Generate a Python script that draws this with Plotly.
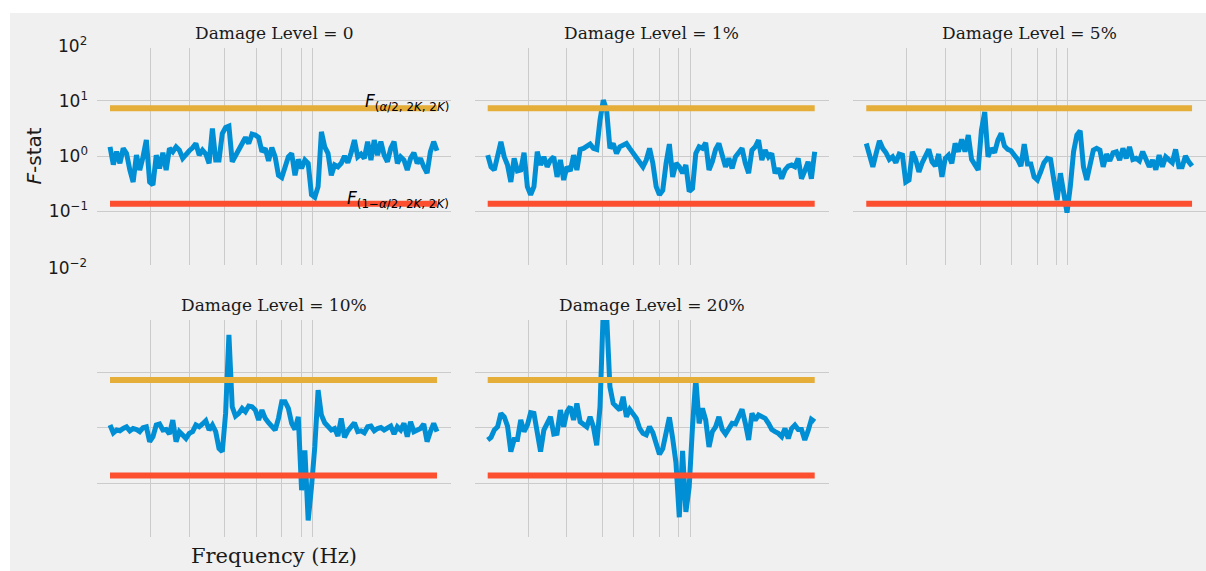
import numpy as np
import plotly.graph_objects as go

# Frequency bins (Hz) shared by every damage case
freq = np.arange(1, 101)

# Natural frequencies marked by the vertical grid lines
natural_freqs = [13.3, 25.0, 35.7, 45.2, 52.9, 58.9, 62.3]

damage_labels = ["0", "1%", "5%", "10%", "20%"]

fstat_0 = [1.47, 0.70, 1.20, 0.74, 1.38, 1.12, 0.56, 0.34, 1.04, 0.56,
           0.97, 1.95, 0.34, 0.30, 1.04, 0.60, 1.15, 0.56, 1.38, 1.20,
           1.47, 1.28, 0.91, 1.09, 1.25, 1.41, 1.69, 1.04, 1.28, 1.09,
           0.74, 3.16, 0.85, 0.85, 2.57, 3.30, 3.50, 0.79, 1.00, 1.28,
           1.74, 2.17, 1.69, 2.50, 2.40, 2.17, 1.20, 1.38, 0.82, 1.43,
           0.97, 0.45, 0.41, 0.60, 0.97, 1.12, 0.45, 0.87, 0.60, 0.85,
           0.74, 0.20, 0.18, 0.28, 2.75, 1.47, 1.12, 0.45, 0.69, 0.64,
           0.74, 1.00, 0.76, 1.15, 1.95, 0.97, 1.09, 0.91, 1.82, 0.85,
           1.95, 1.04, 1.82, 1.04, 0.79, 1.38, 1.82, 0.74, 0.97, 0.85,
           0.56, 0.91, 1.15, 0.74, 0.91, 0.64, 0.49, 1.20, 1.82, 1.25]

fstat_1 = [1.04, 0.64, 0.56, 0.97, 1.82, 0.97, 0.69, 0.34, 0.91, 0.54,
           0.56, 1.15, 0.28, 0.20, 0.28, 1.20, 0.69, 0.97, 0.64, 0.85,
           0.97, 0.42, 0.85, 0.37, 0.64, 0.54, 1.04, 0.56, 1.32, 1.38,
           1.47, 1.65, 1.38, 1.32, 4.47, 10.3, 6.80, 1.38, 1.69, 1.12,
           1.47, 1.58, 1.69, 1.38, 1.15, 0.97, 0.79, 0.64, 0.85, 1.38,
           0.74, 0.28, 0.20, 0.24, 0.74, 1.65, 0.42, 0.74, 0.64, 0.49,
           0.69, 0.23, 0.26, 1.12, 1.47, 1.38, 1.74, 0.56, 0.79, 1.32,
           1.69, 0.97, 0.64, 0.91, 0.60, 0.97, 1.20, 1.38, 0.74, 0.49,
           1.28, 1.47, 1.95, 0.85, 1.28, 0.97, 1.12, 0.49, 0.60, 0.39,
           0.56, 0.66, 0.69, 0.64, 0.91, 0.39, 0.54, 0.79, 0.39, 1.20]

fstat_5 = [1.69, 0.97, 0.64, 1.12, 1.89, 1.38, 1.15, 0.87, 0.97, 0.76,
           1.09, 1.04, 0.34, 0.37, 1.20, 0.87, 0.52, 0.76, 1.03, 1.32,
           0.79, 0.66, 1.09, 0.42, 0.91, 1.04, 0.74, 1.69, 1.20, 2.00,
           1.20, 2.40, 0.87, 0.66, 0.56, 2.95, 6.30, 0.97, 1.38, 1.15,
           1.95, 2.57, 1.52, 1.32, 1.25, 1.04, 0.87, 0.66, 1.65, 0.72,
           0.72, 0.42, 0.37, 0.52, 0.76, 0.91, 0.87, 0.37, 0.16, 0.49,
           0.21, 0.095, 0.28, 1.20, 2.40, 2.87, 0.64, 0.37, 0.69, 1.28,
           1.38, 1.28, 0.64, 1.09, 0.82, 1.15, 1.20, 0.85, 1.38, 0.91,
           1.47, 0.87, 0.91, 0.82, 1.20, 0.91, 0.64, 0.85, 0.57, 1.04,
           0.64, 0.97, 0.85, 0.76, 1.32, 0.64, 0.64, 1.00, 0.79, 0.66]

fstat_10 = [1.12, 0.81, 0.91, 0.88, 0.97, 1.04, 0.88, 0.97, 0.93, 0.85,
            1.00, 1.04, 0.56, 0.69, 1.12, 1.17, 0.91, 0.93, 0.77, 1.38,
            0.56, 0.85, 0.74, 0.64, 0.79, 0.85, 1.12, 1.04, 1.17, 1.34,
            0.91, 1.12, 0.85, 0.42, 0.37, 1.82, 47.9, 2.40, 1.63, 1.82,
            2.24, 1.95, 2.47, 2.40, 2.09, 1.38, 2.09, 1.48, 1.23, 1.04,
            0.91, 1.48, 2.96, 2.96, 2.24, 1.20, 0.93, 1.58, 0.074, 0.39,
            0.021, 0.085, 0.45, 4.80, 1.70, 1.23, 1.04, 0.91, 0.97, 0.71,
            1.48, 0.67, 0.88, 1.04, 1.23, 0.85, 0.88, 0.81, 1.04, 1.07,
            0.88, 0.97, 1.01, 0.91, 0.97, 1.07, 0.77, 1.04, 0.91, 1.20,
            0.69, 1.28, 0.85, 0.91, 0.97, 1.17, 0.56, 0.85, 1.20, 0.85]

fstat_20 = [0.60, 0.67, 0.91, 1.04, 1.82, 1.58, 1.07, 0.37, 0.61, 0.61,
            1.38, 0.85, 1.12, 1.87, 1.82, 0.85, 0.37, 0.91, 1.20, 1.58,
            0.77, 0.79, 2.09, 1.04, 1.95, 2.40, 1.38, 2.76, 1.28, 1.17,
            1.04, 1.58, 1.04, 0.48, 2.40, 140.0, 110.0, 5.50, 2.76, 2.40,
            2.09, 3.64, 1.58, 2.15, 1.70, 1.48, 0.97, 0.79, 0.74, 1.04,
            0.81, 0.52, 0.33, 0.42, 0.79, 1.54, 0.64, 0.23, 0.024, 0.38,
            0.030, 0.085, 1.04, 7.80, 1.20, 2.24, 1.38, 0.45, 0.85, 1.04,
            1.58, 0.93, 0.77, 0.93, 1.20, 1.17, 1.70, 2.15, 1.20, 0.60,
            1.82, 1.38, 1.70, 1.58, 1.48, 1.20, 0.93, 0.85, 0.79, 0.69,
            0.97, 0.64, 0.97, 1.12, 0.93, 0.93, 0.60, 0.88, 1.42, 1.28]

# Two-sided critical values of the F distribution
f_upper = 7.3
f_lower = 0.137

y_tickvals = [0.1, 1, 10]
y_ticktext = ["10<sup>\u22121</sup>", "10<sup>0</sup>", "10<sup>1</sup>"]

series = [fstat_0, fstat_1, fstat_5, fstat_10, fstat_20]

# ---- styling / layout ----
W, H = 1206, 571
BG = "#f0f0f0"
GRID = "#cbcbcb"
BLUE = "#008fd5"
ORANGE = "#e5ae38"
RED = "#fc4f30"
TXT = "#1a1a1a"

cols_px = [(97, 451), (474.7, 828.7), (853.3, 1206)]
rows_px = [(48.3, 265), (320, 536.6)]
cells = [(0, 0), (0, 1), (0, 2), (1, 0), (1, 1)]

x_range = [-2.94, 104.24]
y_range = [-1.97, 1.95]


def px_x(v):
    return v / W


def px_y(v):
    return 1 - v / H


fig = go.Figure()
layout = dict(
    width=W, height=H, autosize=False,
    margin=dict(l=0, r=0, t=0, b=0),
    paper_bgcolor="white", plot_bgcolor=BG,
    showlegend=False,
)

annotations = []
for k, ((r, c), vals, lab) in enumerate(zip(cells, series, damage_labels)):
    sfx = "" if k == 0 else str(k + 1)
    xa, ya = "x" + sfx, "y" + sfx
    x0, x1 = cols_px[c]
    y0, y1 = rows_px[r]
    layout["xaxis" + sfx] = dict(
        domain=[px_x(x0), px_x(x1)], range=x_range, anchor=ya,
        tickmode="array", tickvals=natural_freqs, showticklabels=False,
        showgrid=True, gridcolor=GRID, gridwidth=1, zeroline=False,
        showline=False, ticks="",
    )
    layout["yaxis" + sfx] = dict(
        domain=[px_y(y1), px_y(y0)], type="log", range=y_range, anchor=xa,
        tickmode="array", tickvals=y_tickvals, ticktext=y_ticktext,
        showticklabels=(k == 0), showgrid=True, gridcolor=GRID, gridwidth=1,
        zeroline=False, showline=False, ticks="", ticklabelstandoff=8,
        tickfont=dict(family="DejaVu Sans", size=17, color=TXT),
    )
    fig.add_trace(go.Scatter(x=freq, y=vals, mode="lines", xaxis=xa, yaxis=ya,
                             line=dict(color=BLUE, width=5), hoverinfo="skip"))
    fig.add_trace(go.Scatter(x=[freq[0], freq[-1]], y=[f_upper, f_upper], mode="lines",
                             xaxis=xa, yaxis=ya, line=dict(color=ORANGE, width=6)))
    fig.add_trace(go.Scatter(x=[freq[0], freq[-1]], y=[f_lower, f_lower], mode="lines",
                             xaxis=xa, yaxis=ya, line=dict(color=RED, width=6)))
    # panel title
    annotations.append(dict(
        text="Damage Level = " + lab, xref="paper", yref="paper",
        x=px_x((x0 + x1) / 2), y=px_y(y0 - 15), xanchor="center", yanchor="middle",
        showarrow=False, font=dict(family="DejaVu Serif", size=17, color=TXT),
    ))

# outer decade labels of the shared log axis
for txt, ypx in [("10<sup>2</sup>", 45.4), ("10<sup>\u22122</sup>", 266.6)]:
    annotations.append(dict(
        text=txt, xref="paper", yref="paper", x=px_x(89), y=px_y(ypx),
        xanchor="right", yanchor="middle", showarrow=False,
        font=dict(family="DejaVu Sans", size=17, color=TXT),
    ))

# critical value labels
annotations.append(dict(
    text="<i>F</i><sub>(<i>\u03b1</i>/2, 2<i>K</i>, 2<i>K</i>)</sub>",
    xref="paper", yref="paper", x=px_x(451), y=px_y(103),
    xanchor="right", yanchor="middle", showarrow=False,
    font=dict(family="DejaVu Sans", size=17, color="black"),
))
annotations.append(dict(
    text="<i>F</i><sub>(1\u2212<i>\u03b1</i>/2, 2<i>K</i>, 2<i>K</i>)</sub>",
    xref="paper", yref="paper", x=px_x(451), y=px_y(199.5),
    xanchor="right", yanchor="middle", showarrow=False,
    font=dict(family="DejaVu Sans", size=17, color="black"),
))

# axis titles
annotations.append(dict(
    text="<i>F</i>-stat", xref="paper", yref="paper", x=px_x(33), y=px_y(156.5),
    xanchor="center", yanchor="middle", textangle=-90, showarrow=False,
    font=dict(family="DejaVu Sans", size=20, color=TXT),
))
annotations.append(dict(
    text="Frequency (Hz)", xref="paper", yref="paper", x=px_x(274), y=px_y(556),
    xanchor="center", yanchor="middle", showarrow=False,
    font=dict(family="DejaVu Serif", size=21, color=TXT),
))

layout["annotations"] = annotations
layout["shapes"] = [dict(
    type="rect", xref="paper", yref="paper", x0=px_x(10), x1=1.0, y0=0.0, y1=px_y(13),
    fillcolor=BG, line=dict(width=0), layer="below",
)]

fig.update_layout(**layout)
fig.write_html("out.html")
